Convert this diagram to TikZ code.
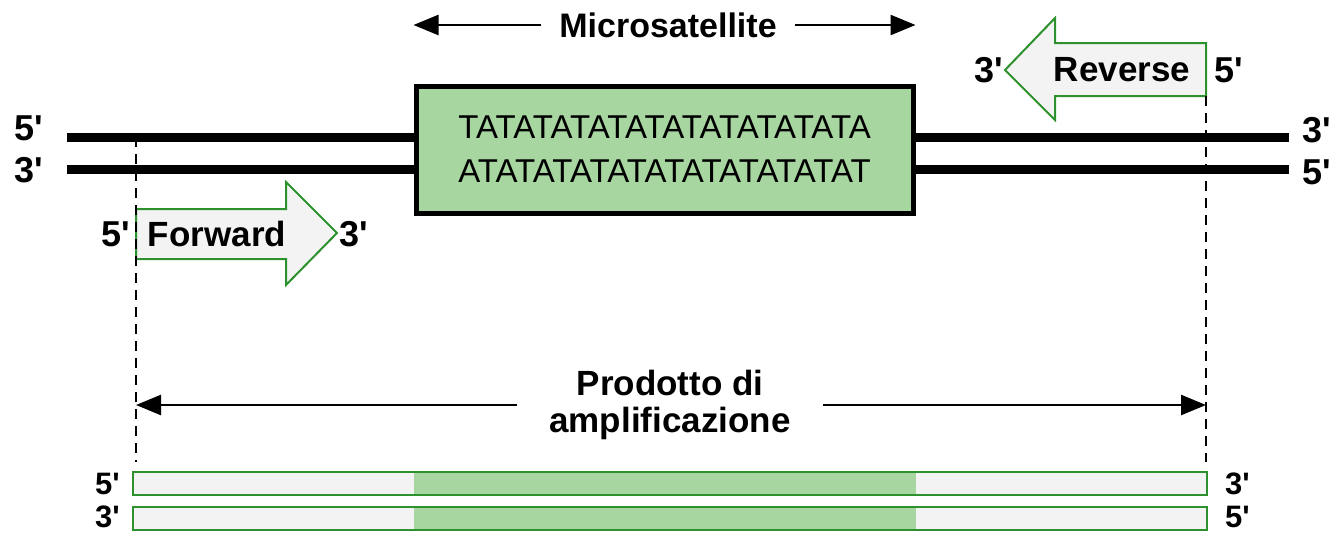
\documentclass[tikz,border=0pt]{standalone}
\usepackage{fontspec}
\setmainfont{Liberation Sans}
\usetikzlibrary{arrows.meta, positioning}
\definecolor{satgreen}{RGB}{168,214,160}
\definecolor{primgreen}{RGB}{45,145,45}
\definecolor{primfill}{RGB}{243,243,243}
\newcommand{\fivep}{5\textquotesingle}
\newcommand{\threep}{3\textquotesingle}

\begin{document}
\begin{tikzpicture}[x = 1pt, y = -1pt,
                node distance = 20pt, % distance between nodes
                font = \fontsize{34}{40}\selectfont\bfseries
            ]

            \tikzstyle{strand}=[line width = 9pt]
            \tikzstyle{tag}=[inner sep = 0pt, font = \fontsize{36}{40}\selectfont\bfseries]
            \tikzstyle{smalltag}=[inner sep = 0pt, font = \fontsize{31}{36}\selectfont\bfseries]
            \tikzstyle{primer}=[draw = primgreen, fill = primfill, line width = 2pt]
            \tikzstyle{guide}=[dash pattern = on 10pt off 7pt, line width = 1.5pt]
            \tikzstyle{dim}=[-{Stealth[length = 25pt, width = 20pt, inset = 0pt]}, line width = 2.5pt]
            \tikzstyle{bar}=[draw = primgreen, fill = primfill, line width = 2pt,
            outer sep = 0pt, minimum width = 1074pt, minimum height = 23pt]

            \useasboundingbox (0,0) rectangle (1335,533);

            % double strand
            \coordinate (t1) at (67,137); \coordinate (t2) at (1289,137);
            \coordinate (b1) at (67,169); \coordinate (b2) at (1289,169);
            \draw[strand] (t1) -- (t2); \draw[strand] (b1) -- (b2);
            \node[tag] (t5) at (29,128) {\fivep}; \node[tag] (b3) at (29,170) {\threep};
            \node[tag] (t3) at (1317,130) {\threep}; \node[tag] (b5) at (1317,172) {\fivep};

            % repeat region
            \node[draw, line width = 5pt, fill = satgreen, minimum width = 497pt,
            minimum height = 127pt, inner sep = 0pt, align = center,
            font = \fontsize{33}{44}\selectfont] (box) at (664.5,149.5)
            {TATATATATATATATATATATA\\ATATATATATATATATATATAT};

            \node[inner sep = 0pt] (ms) at (668,25) {Microsatellite};
            \draw[dim] ([xshift=-18pt]ms.west) -- (ms.west -| box.west);
            \draw[dim] ([xshift=18pt]ms.east) -- (ms.east -| box.east);

            % primers
            \draw[primer] (136,209) -- (286,209) -- (286,182) -- (337,233)
            -- (286,285) -- (286,259) -- (136,259) -- cycle;
            \node[inner sep = 0pt, font = \fontsize{35}{40}\selectfont\bfseries] (fw) at (217,234) {Forward};
            \node[tag] (fw5) at (116,234) {\fivep}; \node[tag] (fw3) at (354,234) {\threep};

            \draw[primer] (1206,43) -- (1055,43) -- (1055,18) -- (1005,70)
            -- (1055,120) -- (1055,96) -- (1206,96) -- cycle;
            \node[inner sep = 0pt, font = \fontsize{35}{40}\selectfont\bfseries] (rv) at (1122,70) {Reverse};
            \node[tag] (rv3) at (989,70) {\threep}; \node[tag] (rv5) at (1229,70) {\fivep};

            % primer ends
            \coordinate (fa) at (136,137); \coordinate (fb) at (136,462);
            \coordinate (ra) at (1206,96); \coordinate (rb) at (1206,462);
            \draw[guide] (fa) -- (fb); \draw[guide] (ra) -- (rb);

            % product
            \node[inner sep = 0pt, align = center, font = \fontsize{35}{37}\selectfont\bfseries]
            (prod) at (670,405) {Prodotto di\\amplificazione};
            \draw[dim] ([xshift=-32pt]prod.west) -- (prod.west -| fb);
            \draw[dim] ([xshift=32pt]prod.east) -- (prod.east -| rb);

            \node[bar] (p1) at (670,483.5) {};
            \node[bar] (p2) at (670,518) {};
            \fill[satgreen] ([yshift=-1pt]p1.north -| box.west) rectangle ([yshift=1pt]p1.south -| box.east);
            \fill[satgreen] ([yshift=-1pt]p2.north -| box.west) rectangle ([yshift=1pt]p2.south -| box.east);
            \node[smalltag, left = 13pt of p1] (p15) {\fivep}; \node[smalltag, right = 18pt of p1] (p13) {\threep};
            \node[smalltag, left = 13pt of p2, yshift = 1.5pt] (p23) {\threep};
            \node[smalltag, right = 18pt of p2, yshift = 1.5pt] (p25) {\fivep};
\end{tikzpicture}
\end{document}
